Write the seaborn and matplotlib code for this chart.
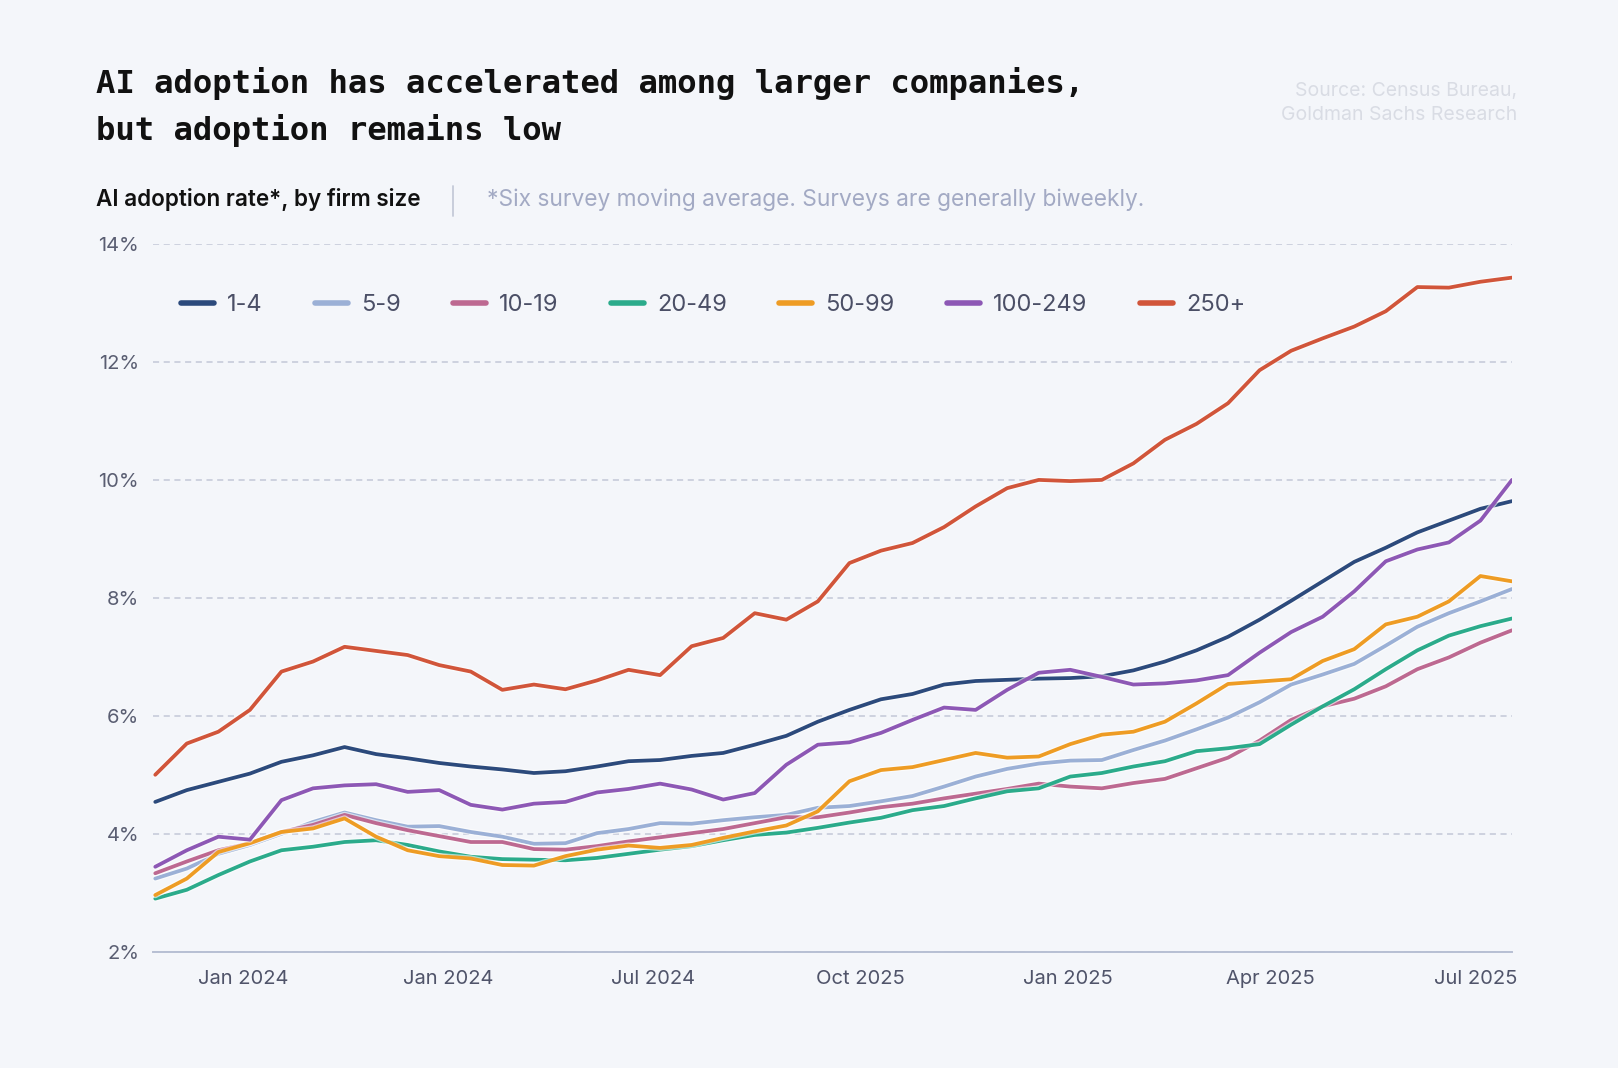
import numpy as np
import pandas as pd
import matplotlib.pyplot as plt
import matplotlib.patheffects as pe
from matplotlib.lines import Line2D
import seaborn as sns

# biweekly survey dates (six-survey moving average)
dates = pd.date_range('2023-11-23', periods=44, freq='14D')

sizes = ['1-4', '5-9', '10-19', '20-49', '50-99', '100-249', '250+']
colors = ['#2c4a7c', '#9bb0d6', '#bd6991', '#2bab8b', '#ee9c24', '#8d58b5', '#d1553a']

firm_1_4 = [4.54, 4.74, 4.88, 5.02, 5.22, 5.33, 5.47, 5.35, 5.28, 5.20, 5.14, 5.09,
            5.03, 5.06, 5.14, 5.23, 5.25, 5.32, 5.37, 5.51, 5.66, 5.90, 6.10, 6.28,
            6.37, 6.53, 6.59, 6.61, 6.63, 6.64, 6.67, 6.77, 6.92, 7.11, 7.34, 7.63,
            7.95, 8.28, 8.61, 8.85, 9.11, 9.31, 9.51, 9.64]
firm_5_9 = [3.24, 3.41, 3.66, 3.81, 4.00, 4.20, 4.36, 4.23, 4.12, 4.13, 4.03, 3.95,
            3.83, 3.84, 4.01, 4.08, 4.18, 4.17, 4.23, 4.28, 4.32, 4.44, 4.47, 4.55,
            4.64, 4.80, 4.97, 5.10, 5.19, 5.24, 5.25, 5.42, 5.58, 5.77, 5.97, 6.23,
            6.53, 6.70, 6.88, 7.19, 7.51, 7.74, 7.94, 8.15]
firm_10_19 = [3.33, 3.53, 3.72, 3.84, 4.03, 4.15, 4.32, 4.18, 4.06, 3.96, 3.86, 3.86,
              3.74, 3.73, 3.79, 3.87, 3.94, 4.01, 4.08, 4.18, 4.28, 4.28, 4.36, 4.45,
              4.51, 4.60, 4.68, 4.76, 4.85, 4.80, 4.77, 4.86, 4.93, 5.11, 5.29, 5.58,
              5.93, 6.16, 6.29, 6.50, 6.79, 6.99, 7.24, 7.45]
firm_20_49 = [2.90, 3.05, 3.30, 3.53, 3.72, 3.78, 3.86, 3.89, 3.81, 3.70, 3.61, 3.57,
              3.56, 3.55, 3.59, 3.66, 3.73, 3.79, 3.89, 3.98, 4.02, 4.10, 4.19, 4.27,
              4.40, 4.47, 4.60, 4.72, 4.77, 4.97, 5.03, 5.14, 5.23, 5.40, 5.45, 5.52,
              5.85, 6.16, 6.45, 6.79, 7.11, 7.36, 7.52, 7.65]
firm_50_99 = [2.96, 3.24, 3.69, 3.84, 4.03, 4.09, 4.26, 3.95, 3.72, 3.62, 3.58, 3.47,
              3.46, 3.62, 3.73, 3.80, 3.76, 3.81, 3.93, 4.04, 4.14, 4.38, 4.89, 5.08,
              5.13, 5.25, 5.37, 5.29, 5.31, 5.52, 5.68, 5.73, 5.90, 6.21, 6.54, 6.58,
              6.62, 6.93, 7.13, 7.55, 7.68, 7.94, 8.37, 8.28]
firm_100_249 = [3.44, 3.72, 3.95, 3.90, 4.57, 4.77, 4.82, 4.84, 4.71, 4.74, 4.49, 4.41,
                4.51, 4.54, 4.70, 4.76, 4.85, 4.75, 4.58, 4.69, 5.17, 5.51, 5.55, 5.71,
                5.93, 6.14, 6.10, 6.44, 6.73, 6.78, 6.66, 6.53, 6.55, 6.60, 6.69, 7.07,
                7.42, 7.68, 8.11, 8.62, 8.82, 8.94, 9.31, 10.00]
firm_250 = [5.00, 5.53, 5.73, 6.10, 6.75, 6.92, 7.17, 7.10, 7.03, 6.86, 6.75, 6.44,
            6.53, 6.45, 6.60, 6.78, 6.69, 7.18, 7.32, 7.74, 7.63, 7.94, 8.59, 8.80,
            8.93, 9.20, 9.55, 9.86, 10.00, 9.98, 10.00, 10.28, 10.68, 10.95, 11.30, 11.86,
            12.19, 12.40, 12.60, 12.86, 13.27, 13.26, 13.36, 13.43]

tick_dates = ['2024-01-01', '2024-04-01', '2024-07-01', '2024-10-01',
              '2025-01-01', '2025-04-01', '2025-07-01']
tick_labels = ['Jan 2024', 'Jan 2024', 'Jul 2024', 'Oct 2025', 'Jan 2025', 'Apr 2025', 'Jul 2025']
y_ticks = [2, 4, 6, 8, 10, 12, 14]

df = pd.DataFrame({
    'date': dates,
    '1-4': firm_1_4,
    '5-9': firm_5_9,
    '10-19': firm_10_19,
    '20-49': firm_20_49,
    '50-99': firm_50_99,
    '100-249': firm_100_249,
    '250+': firm_250,
}).melt(id_vars='date', var_name='size', value_name='rate')

sns.set_theme(style='white')
plt.rcParams['font.family'] = ['Inter', 'DejaVu Sans']

bg = '#f4f6fa'
W, H = 1618, 1068
fig = plt.figure(figsize=(W / 100, H / 100), dpi=100, facecolor=bg)
ax = fig.add_axes([153 / W, 1 - 951.7 / H, 1359 / W, 707.7 / H])
ax.set_facecolor(bg)

sns.lineplot(data=df, x='date', y='rate', hue='size', hue_order=sizes,
             palette=colors, linewidth=2.7, ax=ax)
for line in ax.lines:
    line.set_path_effects([pe.Stroke(linewidth=4.5, foreground='white', alpha=0.6), pe.Normal()])
    line.set_solid_capstyle('round')
    line.set_solid_joinstyle('round')

ax.set_xlim(dates[0] - pd.Timedelta(days=1), dates[-1])
ax.set_ylim(2, 14)
ax.set_yticks(y_ticks)
ax.set_yticklabels([f'{v}%' for v in y_ticks])
ax.set_xticks(pd.to_datetime(tick_dates))
ax.set_xticklabels(tick_labels)
ax.set_xlabel('')
ax.set_ylabel('')

ax.yaxis.grid(True, color='#c3c8d7', linestyle=(0, (4, 3)), linewidth=1.1)
ax.set_axisbelow(True)
for s in ['left', 'right', 'top']:
    ax.spines[s].set_visible(False)
ax.spines['bottom'].set_color('#b7bfd3')
ax.spines['bottom'].set_linewidth(1.4)
ax.tick_params(axis='x', length=7, width=1.2, color='#b7bfd3', pad=6,
               labelsize=14.5, labelcolor='#50546a')
ax.tick_params(axis='y', length=0, pad=10, labelsize=14.5, labelcolor='#5a5e72')

sns.move_legend(ax, 'center left', bbox_to_anchor=(0.0203, 0.9136), ncol=7,
                frameon=False, title=None, fontsize=17, handlelength=1.4,
                handletextpad=0.55, columnspacing=2.22, borderpad=0,
                borderaxespad=0, labelcolor='#4b4f66')
for h in ax.get_legend().legend_handles:
    h.set_linewidth(4)
    h.set_path_effects([])

# titles and notes
fig.text(96 / W, 1 - 93 / H, 'AI adoption has accelerated among larger companies,',
         family='DejaVu Sans Mono', weight='bold', size=23.2, va='baseline', color='#111111')
fig.text(96 / W, 1 - 140 / H, 'but adoption remains low',
         family='DejaVu Sans Mono', weight='bold', size=23.2, va='baseline', color='#111111')

fig.text(1517 / W, 1 - 91 / H, 'Source: Census Bureau,', ha='right', va='center',
         size=14, color='#d9dce4')
fig.text(1517 / W, 1 - 114.5 / H, 'Goldman Sachs Research', ha='right', va='center',
         size=14, color='#d9dce4')

fig.text(96 / W, 1 - 206 / H, 'AI adoption rate*, by firm size', weight='semibold',
         size=16.2, va='baseline', color='#111111')
fig.add_artist(Line2D([453 / W, 453 / W], [1 - 186 / H, 1 - 216 / H],
                      color='#c5cad8', linewidth=1.3))
fig.text(487 / W, 1 - 206 / H, '*Six survey moving average. Surveys are generally biweekly.',
         size=16.4, va='baseline', color='#a3aac4')

fig.savefig('out.png', dpi=100, facecolor=bg)
plt.close()
